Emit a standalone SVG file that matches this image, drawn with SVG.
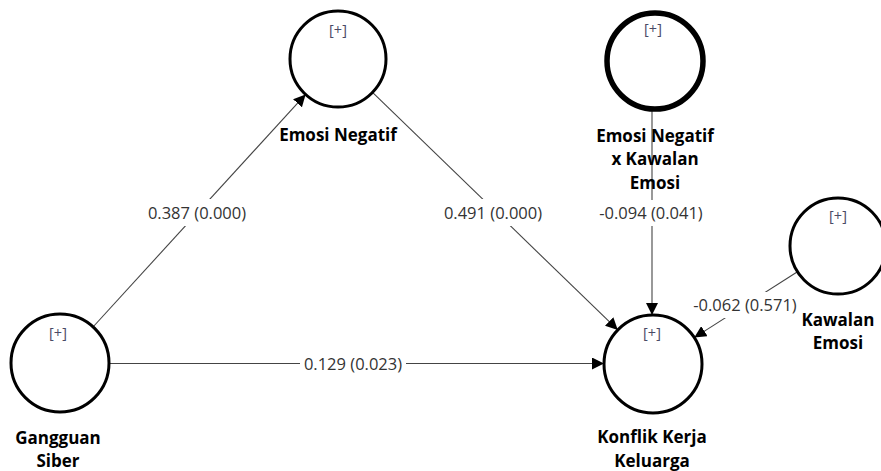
<svg xmlns="http://www.w3.org/2000/svg" width="881" height="471" viewBox="0 0 881 471">
<style>
.node{fill:#fff;stroke:#000;stroke-width:3}
.thick{stroke-width:5.5}
.plus{font-family:"Open Sans","Noto Sans",sans-serif;font-size:14.5px;fill:#4a4a66;text-anchor:middle}
.name{font-family:"Open Sans","Noto Sans",sans-serif;font-size:17px;font-weight:bold;fill:#000;text-anchor:middle}
.edge{stroke:#444;stroke-width:1.1;fill:none;marker-end:url(#arr)}
.lbl{font-family:"Open Sans","Noto Sans",sans-serif;font-size:16.5px;fill:#333;text-anchor:middle}
.bg{fill:#fff}
</style>
<defs>
<marker id="arr" markerUnits="userSpaceOnUse" markerWidth="14" markerHeight="12" refX="12" refY="6" orient="auto">
<path d="M0,0 L12,6 L0,12 Z" fill="#000"/>
</marker>
</defs>
<g id="connectors">
<line class="edge" x1="93" y1="327" x2="305.6" y2="94.4"/>
<line class="edge" x1="372.5" y1="92.4" x2="617.8" y2="329.9"/>
<line class="edge" x1="652" y1="111" x2="652" y2="315"/>
<line class="edge" x1="797.5" y1="271.8" x2="694.3" y2="337.6"/>
<line class="edge" x1="109" y1="363.5" x2="604" y2="363.5"/>
<rect class="bg" x="144" y="199" width="106" height="27"/>
<text class="lbl" x="197" y="219">0.387 (0.000)</text>
<rect class="bg" x="440" y="199" width="106" height="27"/>
<text class="lbl" x="493" y="219">0.491 (0.000)</text>
<rect class="bg" x="594" y="200" width="114" height="26"/>
<text class="lbl" x="651" y="219">-0.094 (0.041)</text>
<rect class="bg" x="688" y="292" width="114" height="26"/>
<text class="lbl" x="745" y="311">-0.062 (0.571)</text>
<rect class="bg" x="300" y="351" width="106" height="26"/>
<text class="lbl" x="353" y="370">0.129 (0.023)</text>
</g>
<g id="emosi-negatif">
<circle class="node" cx="338" cy="59" r="48"/>
<text class="plus" x="338" y="35">[+]</text>
<text class="name" x="338" y="141">Emosi Negatif</text>
</g>
<g id="interaksi">
<circle class="node thick" cx="655" cy="61" r="48"/>
<text class="plus" x="653" y="34">[+]</text>
<text class="name" x="655" y="142">Emosi Negatif</text>
<text class="name" x="655" y="165">x Kawalan</text>
<text class="name" x="655" y="189">Emosi</text>
</g>
<g id="kawalan-emosi">
<circle class="node" cx="838" cy="246" r="48"/>
<text class="plus" x="838" y="221">[+]</text>
<text class="name" x="838" y="326">Kawalan</text>
<text class="name" x="838" y="349">Emosi</text>
</g>
<g id="gangguan-siber">
<circle class="node" cx="60" cy="363" r="49"/>
<text class="plus" x="58" y="338">[+]</text>
<text class="name" x="58" y="444">Gangguan</text>
<text class="name" x="58" y="467">Siber</text>
</g>
<g id="konflik">
<circle class="node" cx="653" cy="364" r="49"/>
<text class="plus" x="652" y="338">[+]</text>
<text class="name" x="652" y="443">Konflik Kerja</text>
<text class="name" x="652" y="467">Keluarga</text>
</g>
</svg>
